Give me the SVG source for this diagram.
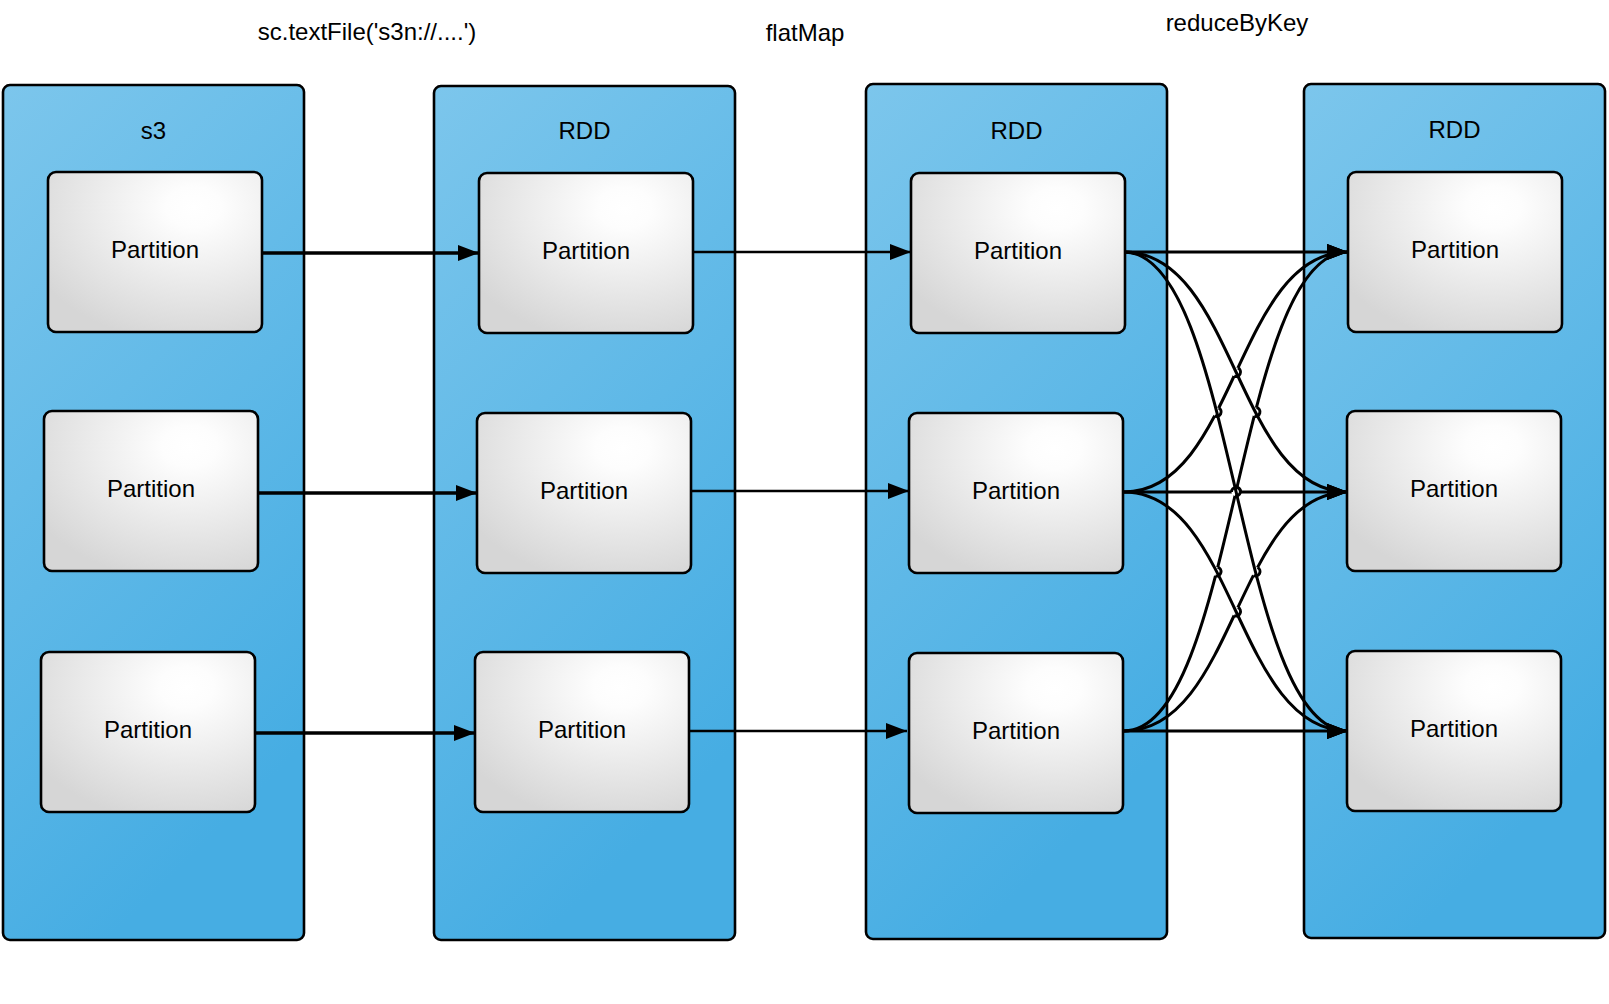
<svg xmlns="http://www.w3.org/2000/svg" width="1609" height="1004" viewBox="0 0 1609 1004">
  <style>
    .container { fill: url(#blueGrad); stroke: #000; stroke-width: 2.6; }
    .part { fill: url(#grayGrad); stroke: #000; stroke-width: 2.6; }
    .lbl { font-family: "Liberation Sans", Arial, sans-serif; font-size: 24px; fill: #000; text-anchor: middle; }
    .conn { fill: none; stroke: #000; stroke-width: 3; }
    .thin { stroke-width: 2.4; }
    .thick { stroke-width: 3.4; }
    .arr { marker-end: url(#arrow); }
  </style>
  <defs>
    <linearGradient id="blueGrad" x1="0" y1="0" x2="0.35" y2="1">
      <stop offset="0" stop-color="#7cc6ec"/>
      <stop offset="1" stop-color="#46ade3"/>
    </linearGradient>
    <radialGradient id="grayGrad" cx="0.68" cy="0.22" r="0.85">
      <stop offset="0" stop-color="#ffffff"/>
      <stop offset="0.15" stop-color="#fdfdfd"/>
      <stop offset="1" stop-color="#d6d6d6"/>
    </radialGradient>
    <marker id="arrow" markerUnits="userSpaceOnUse" markerWidth="24" markerHeight="18" refX="21" refY="8" orient="auto">
      <path d="M0,0 L21,8 L0,16 Z" fill="#000"/>
    </marker>
    <mask id="mS2T1" maskUnits="userSpaceOnUse" x="0" y="0" width="1609" height="1004">
      <rect x="0" y="0" width="1609" height="1004" fill="#fff"/>
      <circle cx="1236" cy="372" r="4.5" fill="#000"/>
      <circle cx="1216.6" cy="411.9" r="4.5" fill="#000"/>
    </mask>
    <mask id="mS3T1" maskUnits="userSpaceOnUse" x="0" y="0" width="1609" height="1004">
      <rect x="0" y="0" width="1609" height="1004" fill="#fff"/>
      <circle cx="1236" cy="491.5" r="4.5" fill="#000"/>
      <circle cx="1255.4" cy="411.9" r="4.5" fill="#000"/>
      <circle cx="1216.5" cy="571.6" r="4.5" fill="#000"/>
    </mask>
    <mask id="mS3T2" maskUnits="userSpaceOnUse" x="0" y="0" width="1609" height="1004">
      <rect x="0" y="0" width="1609" height="1004" fill="#fff"/>
      <circle cx="1255.5" cy="571.5" r="4.5" fill="#000"/>
      <circle cx="1236" cy="611.5" r="4.5" fill="#000"/>
    </mask>
    <mask id="mS2T2" maskUnits="userSpaceOnUse" x="0" y="0" width="1609" height="1004">
      <rect x="0" y="0" width="1609" height="1004" fill="#fff"/>
      <circle cx="1236" cy="492" r="4.5" fill="#000"/>
    </mask>
  </defs>

  <rect width="1609" height="1004" fill="#fff"/>

  <!-- operation labels -->
  <text class="lbl" x="367" y="40">sc.textFile('s3n://....')</text>
  <text class="lbl" x="805" y="41">flatMap</text>
  <text class="lbl" x="1237" y="31">reduceByKey</text>

  <!-- containers -->
  <g id="s3">
    <rect class="container" x="3" y="85" width="301" height="855" rx="7"/>
    <text class="lbl" x="153.5" y="138.5">s3</text>
  </g>
  <g id="rdd1">
    <rect class="container" x="434" y="86" width="301" height="854" rx="7"/>
    <text class="lbl" x="584.5" y="139">RDD</text>
  </g>
  <g id="rdd2">
    <rect class="container" x="866" y="84" width="301" height="855" rx="7"/>
    <text class="lbl" x="1016.5" y="139">RDD</text>
  </g>
  <g id="rdd3">
    <rect class="container" x="1304" y="84" width="301" height="854" rx="7"/>
    <text class="lbl" x="1454.5" y="138">RDD</text>
  </g>

  <!-- partitions -->
  <g id="s3-p1"><rect class="part" x="48" y="172" width="214" height="160" rx="8"/><text class="lbl" x="155" y="258">Partition</text></g>
  <g id="s3-p2"><rect class="part" x="44" y="411" width="214" height="160" rx="8"/><text class="lbl" x="151" y="497">Partition</text></g>
  <g id="s3-p3"><rect class="part" x="41" y="652" width="214" height="160" rx="8"/><text class="lbl" x="148" y="738">Partition</text></g>

  <g id="rdd1-p1"><rect class="part" x="479" y="173" width="214" height="160" rx="8"/><text class="lbl" x="586" y="259">Partition</text></g>
  <g id="rdd1-p2"><rect class="part" x="477" y="413" width="214" height="160" rx="8"/><text class="lbl" x="584" y="499">Partition</text></g>
  <g id="rdd1-p3"><rect class="part" x="475" y="652" width="214" height="160" rx="8"/><text class="lbl" x="582" y="738">Partition</text></g>

  <g id="rdd2-p1"><rect class="part" x="911" y="173" width="214" height="160" rx="8"/><text class="lbl" x="1018" y="259">Partition</text></g>
  <g id="rdd2-p2"><rect class="part" x="909" y="413" width="214" height="160" rx="8"/><text class="lbl" x="1016" y="499">Partition</text></g>
  <g id="rdd2-p3"><rect class="part" x="909" y="653" width="214" height="160" rx="8"/><text class="lbl" x="1016" y="739">Partition</text></g>

  <g id="rdd3-p1"><rect class="part" x="1348" y="172" width="214" height="160" rx="8"/><text class="lbl" x="1455" y="258">Partition</text></g>
  <g id="rdd3-p2"><rect class="part" x="1347" y="411" width="214" height="160" rx="8"/><text class="lbl" x="1454" y="497">Partition</text></g>
  <g id="rdd3-p3"><rect class="part" x="1347" y="651" width="214" height="160" rx="8"/><text class="lbl" x="1454" y="737">Partition</text></g>

  <!-- connectors -->
  <g id="connectors">
    <path class="conn thick arr" d="M262,253 L479,253"/>
    <path class="conn thick arr" d="M258,493 L477,493"/>
    <path class="conn thick arr" d="M255,733 L475,733"/>

    <path class="conn thin arr" d="M693,252 L911,252"/>
    <path class="conn thin arr" d="M691,491 L909,491"/>
    <path class="conn thin arr" d="M689,731 L907,731"/>

    <path class="conn arr" d="M1124,252 L1348,252"/>
    <path class="conn arr" d="M1124,252 C1236,252 1236,492 1348,492"/>
    <path class="conn arr" d="M1124,252 C1236,252 1236,731 1348,731"/>
    <path class="conn arr" d="M1124,492 C1236,492 1236,252 1348,252" mask="url(#mS2T1)"/>
    <path class="conn arr" d="M1124,492 L1348,492" mask="url(#mS2T2)"/>
    <path class="conn arr" d="M1124,492 C1236,492 1236,731 1348,731"/>
    <path class="conn arr" d="M1124,731 C1236,731 1236,252 1348,252" mask="url(#mS3T1)"/>
    <path class="conn arr" d="M1124,731 C1236,731 1236,492 1348,492" mask="url(#mS3T2)"/>
    <path class="conn arr" d="M1124,731 L1348,731"/>

    <!-- line jumps -->
    <path class="conn" d="M1234.1,376.08 A4.5,4.5 0 0 0 1237.9,367.92"/>
    <path class="conn" d="M1214.53,415.9 A4.5,4.5 0 0 0 1218.67,407.9"/>
    <path class="conn" d="M1234.97,495.88 A4.5,4.5 0 0 0 1237.03,487.12"/>
    <path class="conn" d="M1254.27,416.26 A4.5,4.5 0 0 0 1256.53,407.54"/>
    <path class="conn" d="M1215.37,575.96 A4.5,4.5 0 0 0 1217.63,567.24"/>
    <path class="conn" d="M1253.43,575.5 A4.5,4.5 0 0 0 1257.57,567.5"/>
    <path class="conn" d="M1234.1,615.58 A4.5,4.5 0 0 0 1237.9,607.42"/>
    <path class="conn" d="M1231.5,492 A4.5,4.5 0 0 1 1240.5,492"/>
  </g>
</svg>
